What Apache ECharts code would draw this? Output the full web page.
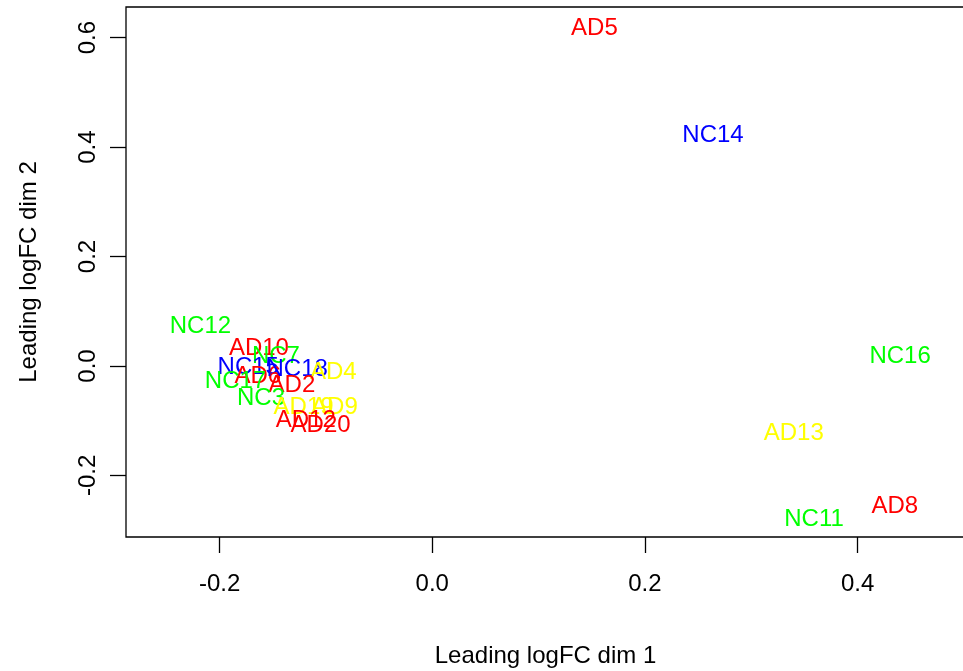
<!DOCTYPE html>
<html>
<head>
<meta charset="utf-8">
<script src="https://cdn.jsdelivr.net/npm/echarts@6/dist/echarts.min.js"></script>
<style>
  html, body { margin: 0; padding: 0; background: #fff; }
  #chart { width: 963px; height: 671px; }
</style>
</head>
<body>
<div id="chart"></div>
<script>
// MDS plot: sample labels placed at leading logFC dims
var sampleNames = ['NC12', 'AD10', 'NC7', 'NC15', 'AD6', 'NC17', 'NC18', 'AD4', 'AD2', 'NC3',
  'AD19', 'AD9', 'AD12', 'AD20', 'AD5', 'NC14', 'NC16', 'AD13', 'AD8', 'NC11'];
var dim1 = [-0.218, -0.163, -0.147, -0.173, -0.164, -0.185, -0.127, -0.093, -0.132, -0.161,
  -0.121, -0.092, -0.119, -0.105, 0.1525, 0.264, 0.440, 0.340, 0.435, 0.359];
var dim2 = [0.072, 0.033, 0.017, -0.002, -0.019, -0.029, -0.007, -0.012, -0.036, -0.060,
  -0.076, -0.076, -0.100, -0.109, 0.617, 0.421, 0.017, -0.124, -0.257, -0.281];
var group = ['green', 'red', 'green', 'blue', 'red', 'green', 'blue', 'yellow', 'red', 'green',
  'yellow', 'yellow', 'red', 'red', 'red', 'blue', 'green', 'yellow', 'red', 'green'];
var groupColors = { red: '#ff0000', green: '#00ff00', blue: '#0000ff', yellow: '#ffff00' };
var xTicks = [-0.2, 0, 0.2, 0.4];
var yTicks = [-0.2, 0, 0.2, 0.4, 0.6];

var font = '"Liberation Sans", Arial, sans-serif';
var chart = echarts.init(document.getElementById('chart'), null, { renderer: 'canvas' });

var points = sampleNames.map(function(n, i) {
  return {
    name: n,
    value: [dim1[i], dim2[i]],
    label: { color: groupColors[group[i]] }
  };
});

chart.setOption({
  animation: false,
  grid: {
    left: 126, top: 7, width: 839, height: 530,
    outerBoundsMode: 'none', containLabel: false,
    show: true, borderColor: '#000', borderWidth: 1.3, backgroundColor: 'transparent'
  },
  xAxis: {
    type: 'value', min: -0.288, max: 0.501,
    name: 'Leading logFC dim 1', nameLocation: 'middle', nameGap: 107,
    nameTextStyle: { color: '#000', fontSize: 24, fontFamily: font },
    axisLine: { show: false, onZero: false },
    splitLine: { show: false },
    axisTick: { show: true, length: 16, customValues: xTicks, lineStyle: { color: '#000', width: 1.3 } },
    axisLabel: {
      customValues: xTicks, margin: 35, color: '#000', fontSize: 24, fontFamily: font,
      formatter: function(v) { return v.toFixed(1); }
    }
  },
  yAxis: {
    type: 'value', min: -0.3125, max: 0.656,
    name: 'Leading logFC dim 2', nameLocation: 'middle', nameGap: 85,
    nameTextStyle: { color: '#000', fontSize: 24, fontFamily: font },
    axisLine: { show: false, onZero: false },
    splitLine: { show: false },
    axisTick: { show: true, length: 16, customValues: yTicks, lineStyle: { color: '#000', width: 1.3 } },
    axisLabel: {
      customValues: yTicks, rotate: 90, margin: 26, color: '#000', fontSize: 24, fontFamily: font,
      formatter: function(v) { return v.toFixed(1); }
    }
  },
  series: [{
    type: 'scatter',
    symbolSize: 0,
    itemStyle: { opacity: 1 },
    data: points,
    label: {
      show: true, position: 'inside', fontSize: 24, fontFamily: font,
      formatter: function(p) { return p.name; }
    },
    labelLayout: { hideOverlap: false }
  }]
});
</script>
</body>
</html>
